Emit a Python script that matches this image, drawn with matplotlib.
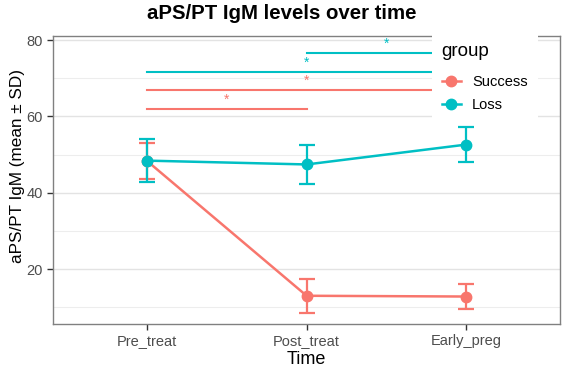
import matplotlib
matplotlib.use("Agg")
import matplotlib.pyplot as plt
from matplotlib.lines import Line2D
from matplotlib.patches import Rectangle

plt.rcParams['font.family'] = ['Liberation Sans', 'DejaVu Sans']

times = ["Pre_treat", "Post_treat", "Early_preg"]
groups = ["Success", "Loss"]
colors = {"Success": "#F8766D", "Loss": "#00BFC4"}

success_mean = [48.3, 13.0, 12.8]
success_sd = [4.7, 4.5, 3.3]
loss_mean = [48.4, 47.4, 52.6]
loss_sd = [5.6, 5.1, 4.6]

# significance brackets: (group, start index, end index, y level)
sig_group = ["Loss", "Loss", "Success", "Success"]
sig_start = [1, 0, 0, 0]
sig_end = [2, 2, 2, 1]
sig_y = [76.6, 71.6, 66.8, 62.0]

fig = plt.figure(figsize=(5.67, 3.70), dpi=100)
ax = fig.add_axes([0.0935, 0.1243, 0.8945, 0.7784])

x = list(range(len(times)))
means = {"Success": success_mean, "Loss": loss_mean}
sds = {"Success": success_sd, "Loss": loss_sd}

for g in groups:
    ax.errorbar(x, means[g], yerr=sds[g], color=colors[g], lw=1.8,
                elinewidth=1.6, capsize=6, capthick=1.6, marker='o',
                markersize=7.5, zorder=3)

for g, s, e, yv in zip(sig_group, sig_start, sig_end, sig_y):
    ax.plot([s, e], [yv, yv], color=colors[g], lw=1.5, zorder=2)
    ax.text((s + e) / 2, yv + 0.6, "*", color=colors[g], ha='center',
            va='bottom', fontsize=10)

ax.set_xlim(-0.59, 2.59)
ax.set_ylim(5.6, 81.05)
ax.set_xticks(x)
ax.set_xticklabels(times)
ax.set_yticks([20, 40, 60, 80])
ax.set_yticks([10, 30, 50, 70], minor=True)
ax.grid(axis='y', which='major', color='#E3E3E3', lw=1.0)
ax.grid(axis='y', which='minor', color='#EDEDED', lw=0.8)
ax.grid(axis='x', visible=False)
ax.set_axisbelow(True)
ax.tick_params(axis='both', which='major', colors='#333333', labelcolor='#4D4D4D',
               labelsize=10.5, length=4, width=1)
ax.tick_params(axis='y', which='minor', length=0)
for sp in ax.spines.values():
    sp.set_color('#808080')
    sp.set_linewidth(1.0)

ax.set_xlabel("Time", fontsize=13, labelpad=2)
ax.set_ylabel("aPS/PT IgM (mean ± SD)", fontsize=12.3)
ax.yaxis.set_label_coords(-0.055, 0.549)
fig.suptitle("aPS/PT IgM levels over time", fontsize=14.7, fontweight='bold',
             x=0.497, y=0.99)

# white legend box covering the panel border
fig.patches.append(Rectangle((432 / 567, 1 - 118 / 370), 106 / 567, 88 / 370,
                             transform=fig.transFigure, facecolor='white',
                             edgecolor='none', zorder=9))
fig.text(441 / 567, 1 - 52 / 370, "group", fontsize=13.5, ha='left',
         va='center', zorder=11)

handles = [Line2D([0], [0], color=colors[g], marker='o', markersize=7.5, lw=1.8)
           for g in groups]
leg = fig.legend(handles, groups, loc='upper left',
                 bbox_to_anchor=(442 / 567, 1 - 75 / 370), frameon=False,
                 fontsize=10.5, handlelength=1.3, handletextpad=0.75,
                 borderpad=0, borderaxespad=0, labelspacing=0.6)
leg.set_zorder(10)

fig.savefig("out.png", dpi=100)
